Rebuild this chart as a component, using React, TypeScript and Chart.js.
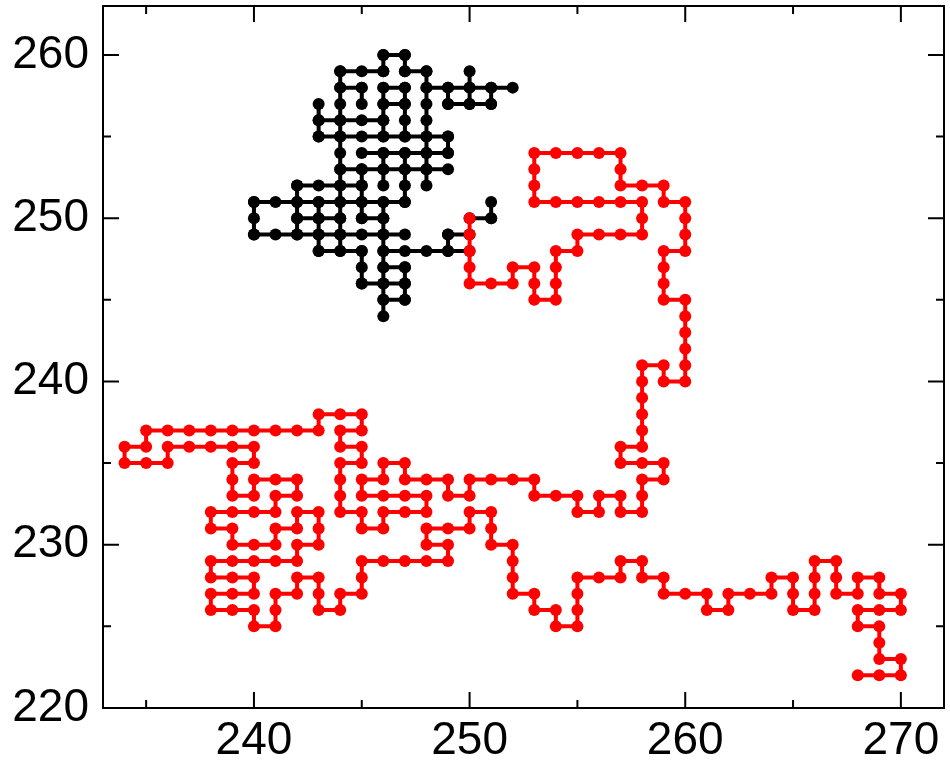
import React, { useEffect, useRef } from 'react';
import { Chart, registerables } from 'chart.js';

Chart.register(...registerables);

// Axis settings
const xRange = [233, 272];
const yRange = [220, 263];
const xMajorTicks = [240, 250, 260, 270];
const xMinorTicks = [235, 245, 255, 265];
const yMajorTicks = [220, 230, 240, 250, 260];
const yMinorTicks = [225, 235, 245, 255];

// Red walk: one continuous lattice path
const redPath: number[][] = [
  [250,250],[250,249],[250,248],[250,247],[250,246],[251,246],[252,246],[252,247],[253,247],[253,246],
  [253,245],[254,245],[254,246],[254,247],[254,248],[255,248],[255,249],[256,249],[257,249],[258,249],
  [258,250],[258,251],[257,251],[256,251],[255,251],[254,251],[253,251],[253,252],[253,253],[253,254],
  [254,254],[255,254],[256,254],[257,254],[257,253],[257,252],[258,252],[259,252],[259,251],[260,251],
  [260,250],[260,249],[260,248],[259,248],[259,247],[259,246],[259,245],[260,245],[260,244],[260,243],
  [260,242],[260,241],[260,240],[259,240],[259,241],[258,241],[258,240],[258,239],[258,238],[258,237],
  [258,236],[257,236],[257,235],[258,235],[259,235],[259,234],[258,234],[258,233],[258,232],[257,232],
  [257,233],[256,233],[256,232],[255,232],[255,233],[254,233],[253,233],[253,234],[252,234],[251,234],
  [250,234],[250,233],[249,233],[249,234],[248,234],[247,234],[247,235],[246,235],[246,234],[245,234],
  [245,233],[246,233],[247,233],[248,233],[248,232],[247,232],[246,232],[246,231],[245,231],[245,232],
  [244,232],[244,233],[244,234],[244,235],[245,235],[245,236],[244,236],[244,237],[245,237],[245,238],
  [244,238],[243,238],[243,237],[242,237],[241,237],[240,237],[239,237],[238,237],[237,237],[236,237],
  [235,237],[235,236],[234,236],[234,235],[235,235],[236,235],[236,236],[237,236],[238,236],[239,236],
  [240,236],[240,235],[239,235],[239,234],[239,233],[240,233],[240,234],[241,234],[242,234],[242,233],
  [241,233],[241,232],[240,232],[239,232],[238,232],[238,231],[239,231],[239,230],[240,230],[241,230],
  [241,231],[242,231],[242,232],[243,232],[243,231],[243,230],[242,230],[242,229],[241,229],[240,229],
  [239,229],[238,229],[238,228],[239,228],[240,228],[240,227],[239,227],[238,227],[238,226],[239,226],
  [240,226],[240,225],[241,225],[241,226],[241,227],[242,227],[242,228],[243,228],[243,227],[243,226],
  [244,226],[244,227],[245,227],[245,228],[245,229],[246,229],[247,229],[248,229],[249,229],[249,230],
  [248,230],[248,231],[249,231],[250,231],[250,232],[251,232],[251,231],[251,230],[252,230],[252,229],
  [252,228],[252,227],[253,227],[253,226],[254,226],[254,225],[255,225],[255,226],[255,227],[255,228],
  [256,228],[257,228],[257,229],[258,229],[258,228],[259,228],[259,227],[260,227],[261,227],[261,226],
  [262,226],[262,227],[263,227],[264,227],[264,228],[265,228],[265,227],[265,226],[266,226],[266,227],
  [266,228],[266,229],[267,229],[267,228],[267,227],[268,227],[268,228],[269,228],[269,227],[270,227],
  [270,226],[269,226],[268,226],[268,225],[269,225],[269,224],[269,223],[270,223],[270,222],[269,222],
  [268,222],
];

// Black walk: revisits itself, so it is kept as separate strokes
const blackRowStrokes: number[][][] = [
  [[246,260],[247,260]],
  [[244,259],[245,259],[246,259]],
  [[247,259],[248,259]],
  [[244,258],[245,258]],
  [[246,258],[247,258]],
  [[248,258],[249,258],[250,258],[251,258],[252,258]],
  [[246,257],[247,257]],
  [[249,257],[250,257],[251,257]],
  [[243,256],[244,256],[245,256],[246,256]],
  [[243,255],[244,255],[245,255],[246,255],[247,255],[248,255],[249,255]],
  [[245,254],[246,254],[247,254],[248,254],[249,254]],
  [[244,253],[245,253],[246,253],[247,253],[248,253],[249,253]],
  [[242,252],[243,252],[244,252],[245,252]],
  [[240,251],[241,251],[242,251],[243,251],[244,251],[245,251],[246,251],[247,251]],
  [[242,250],[243,250],[244,250]],
  [[245,250],[246,250]],
  [[250,250],[251,250]],
  [[240,249],[241,249],[242,249],[243,249],[244,249],[245,249],[246,249],[247,249]],
  [[249,249],[250,249]],
  [[243,248],[244,248],[245,248]],
  [[246,248],[247,248],[248,248],[249,248],[250,248]],
  [[246,247],[247,247]],
  [[245,246],[246,246],[247,246]],
  [[246,245],[247,245]],
];

const blackColumnStrokes: number[][][] = [
  [[240,249],[240,250],[240,251]],
  [[242,249],[242,250],[242,251],[242,252]],
  [[243,255],[243,256],[243,257]],
  [[243,248],[243,249],[243,250],[243,251]],
  [[244,248],[244,249],[244,250],[244,251],[244,252],[244,253],[244,254],[244,255],[244,256],[244,257],[244,258],[244,259]],
  [[245,257],[245,258]],
  [[245,250],[245,251],[245,252],[245,253]],
  [[245,246],[245,247],[245,248]],
  [[246,259],[246,260]],
  [[246,255],[246,256],[246,257],[246,258]],
  [[246,252],[246,253],[246,254]],
  [[246,244],[246,245],[246,246],[246,247],[246,248],[246,249],[246,250],[246,251]],
  [[247,259],[247,260]],
  [[247,255],[247,256],[247,257],[247,258]],
  [[247,251],[247,252],[247,253],[247,254]],
  [[247,245],[247,246],[247,247]],
  [[248,252],[248,253],[248,254],[248,255],[248,256],[248,257],[248,258],[248,259]],
  [[249,257],[249,258]],
  [[249,254],[249,255]],
  [[249,248],[249,249]],
  [[250,257],[250,258],[250,259]],
  [[251,257],[251,258]],
  [[251,250],[251,251]],
];

const toPoints = (pts: number[][]) => pts.map(([x, y]) => ({ x, y }));
const strokesToPoints = (strokes: number[][][]) =>
  strokes.flatMap((s) => [...toPoints(s), { x: NaN, y: NaN }]);

const framePlugin = {
  id: 'frameTicks',
  afterDatasetsDraw(chart: any) {
    const { ctx, chartArea, scales } = chart;
    const { left, right, top, bottom } = chartArea;
    const xs = scales.x;
    const ys = scales.y;
    const major = 16;
    const minor = 8;
    ctx.save();
    ctx.strokeStyle = '#000';
    ctx.lineWidth = 2;
    ctx.beginPath();
    const vTick = (v: number, len: number) => {
      const px = xs.getPixelForValue(v);
      ctx.moveTo(px, bottom);
      ctx.lineTo(px, bottom - len);
      ctx.moveTo(px, top);
      ctx.lineTo(px, top + len);
    };
    const hTick = (v: number, len: number) => {
      const py = ys.getPixelForValue(v);
      ctx.moveTo(left, py);
      ctx.lineTo(left + len, py);
      ctx.moveTo(right, py);
      ctx.lineTo(right - len, py);
    };
    xMajorTicks.forEach((v) => vTick(v, major));
    xMinorTicks.forEach((v) => vTick(v, minor));
    yMajorTicks.forEach((v) => hTick(v, major));
    yMinorTicks.forEach((v) => hTick(v, minor));
    ctx.stroke();
    ctx.strokeRect(left, top, right - left, bottom - top);
    ctx.restore();
  },
};

export default function App() {
  const canvasRef = useRef<HTMLCanvasElement | null>(null);

  useEffect(() => {
    document.body.style.margin = '0';
    const canvas = canvasRef.current;
    if (!canvas) return;
    const font = { family: '"Liberation Sans", Arial, sans-serif', size: 46 };
    const chart = new Chart(canvas, {
      type: 'scatter',
      data: {
        datasets: [
          {
            label: 'red',
            data: toPoints(redPath),
            showLine: true,
            borderColor: '#ff0000',
            backgroundColor: '#ff0000',
            pointBackgroundColor: '#ff0000',
            pointBorderWidth: 0,
            pointRadius: 6,
            borderWidth: 4,
            order: 0,
          },
          {
            label: 'black',
            data: [...strokesToPoints(blackRowStrokes), ...strokesToPoints(blackColumnStrokes)],
            showLine: true,
            spanGaps: false,
            borderColor: '#000000',
            backgroundColor: '#000000',
            pointBackgroundColor: '#000000',
            pointBorderWidth: 0,
            pointRadius: 6,
            borderWidth: 4,
            order: 1,
          },
        ],
      },
      options: {
        animation: false,
        responsive: false,
        maintainAspectRatio: false,
        layout: { padding: { top: 3, right: 3, left: 0, bottom: 0 } },
        plugins: { legend: { display: false }, tooltip: { enabled: false } },
        scales: {
          x: {
            type: 'linear',
            min: xRange[0],
            max: xRange[1],
            grid: { display: false, drawTicks: false },
            border: { display: false },
            afterBuildTicks: (s: any) => {
              s.ticks = xMajorTicks.map((v) => ({ value: v }));
            },
            afterFit: (s: any) => {
              s.height = 52;
              s.paddingLeft = 0;
              s.paddingRight = 0;
            },
            ticks: { color: '#000', font, padding: 6, maxRotation: 0, autoSkip: false },
          },
          y: {
            type: 'linear',
            min: yRange[0],
            max: yRange[1],
            grid: { display: false, drawTicks: false },
            border: { display: false },
            afterBuildTicks: (s: any) => {
              s.ticks = yMajorTicks.map((v) => ({ value: v }));
            },
            afterFit: (s: any) => {
              s.width = 103;
              s.paddingTop = 0;
              s.paddingBottom = 0;
            },
            ticks: { color: '#000', font, padding: 14, autoSkip: false },
          },
        },
      },
      plugins: [framePlugin],
    });
    return () => chart.destroy();
  }, []);

  return (
    <div style={{ width: 950, height: 760 }}>
      <canvas ref={canvasRef} width={950} height={760} style={{ display: 'block' }} />
    </div>
  );
}
